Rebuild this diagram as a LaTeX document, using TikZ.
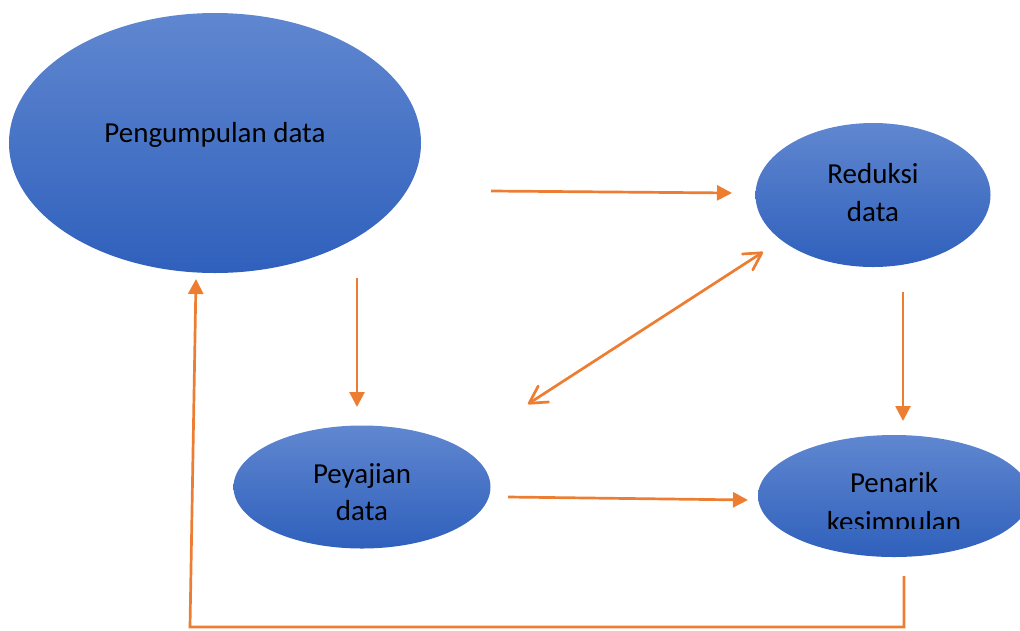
\documentclass[tikz,border=0pt]{standalone}
\usepackage{fontspec}
\setmainfont{Carlito}
\usetikzlibrary{shapes.geometric,arrows.meta}
\definecolor{orangec}{RGB}{237,125,49}
\definecolor{bluetop}{RGB}{96,135,208}
\definecolor{bluebot}{RGB}{47,96,188}
\tikzset{
  blob/.style={ellipse, inner sep=0pt, top color=bluetop, bottom color=bluebot, draw=none},
  lbl/.style={anchor=base, inner sep=0pt, font=\fontsize{29}{38}\selectfont, text=black},
  arr/.style={draw=orangec, line width=2.7pt, -{Triangle[length=15pt,width=15pt]}},
  dbl/.style={draw=orangec, line width=2.7pt, line cap=round,
    {Straight Barb[length=17pt,width=19pt,round]}-{Straight Barb[length=17pt,width=19pt,round]}},
  loopline/.style={draw=orangec, line width=2.7pt, line join=miter, -{Triangle[length=15pt,width=15pt]}}
}
\begin{document}
\begin{tikzpicture}[x=1pt,y=-1pt]
\useasboundingbox (0,0) rectangle (1020,630);
% ellipses
\node[blob, minimum width=412pt, minimum height=260pt] (pd) at (215,143) {};
\node[blob, minimum width=235pt, minimum height=144pt] (rd) at (873,195) {};
\node[blob, minimum width=257pt, minimum height=123pt] (py) at (362,487) {};
\node[blob, minimum width=272pt, minimum height=122pt] (pk) at (894,496) {};
% labels
\node[lbl] (tpd) at (215,142) {Pengumpulan data};
\node[lbl] (trd1) at (873,183) {Reduksi};
\node[lbl] (trd2) at (873,221) {data};
\node[lbl] (tpy1) at (362,483) {Peyajian};
\node[lbl] (tpy2) at (362,520) {data};
\node[lbl] (tpk1) at (894,492) {Penarik};
\begin{scope}
\clip (700,500) rectangle (1020,528);
\node[lbl] (tpk2) at (894,531) {kesimpulan};
\end{scope}
% connector end points
\coordinate (a1s) at (491,191);
\coordinate (a1e) at (732,193);
\coordinate (a2s) at (357,278);
\coordinate (a2e) at (357,407);
\coordinate (a3s) at (528,404);
\coordinate (a3e) at (763,252);
\coordinate (a4s) at (903,292);
\coordinate (a4e) at (903,421);
\coordinate (a5s) at (508,497);
\coordinate (a5e) at (748,500);
\coordinate (f1) at (904,576);
\coordinate (f2) at (904,627);
\coordinate (f3) at (190,627);
\coordinate (f4) at (196,279);
% connectors
\draw[arr] (a1s) -- (a1e);
\draw[arr] (a2s) -- (a2e);
\draw[dbl] (a3s) -- (a3e);
\draw[arr] (a4s) -- (a4e);
\draw[arr] (a5s) -- (a5e);
\draw[loopline] (f1) -- (f2) -- (f3) -- (f4);
\end{tikzpicture}
\end{document}
